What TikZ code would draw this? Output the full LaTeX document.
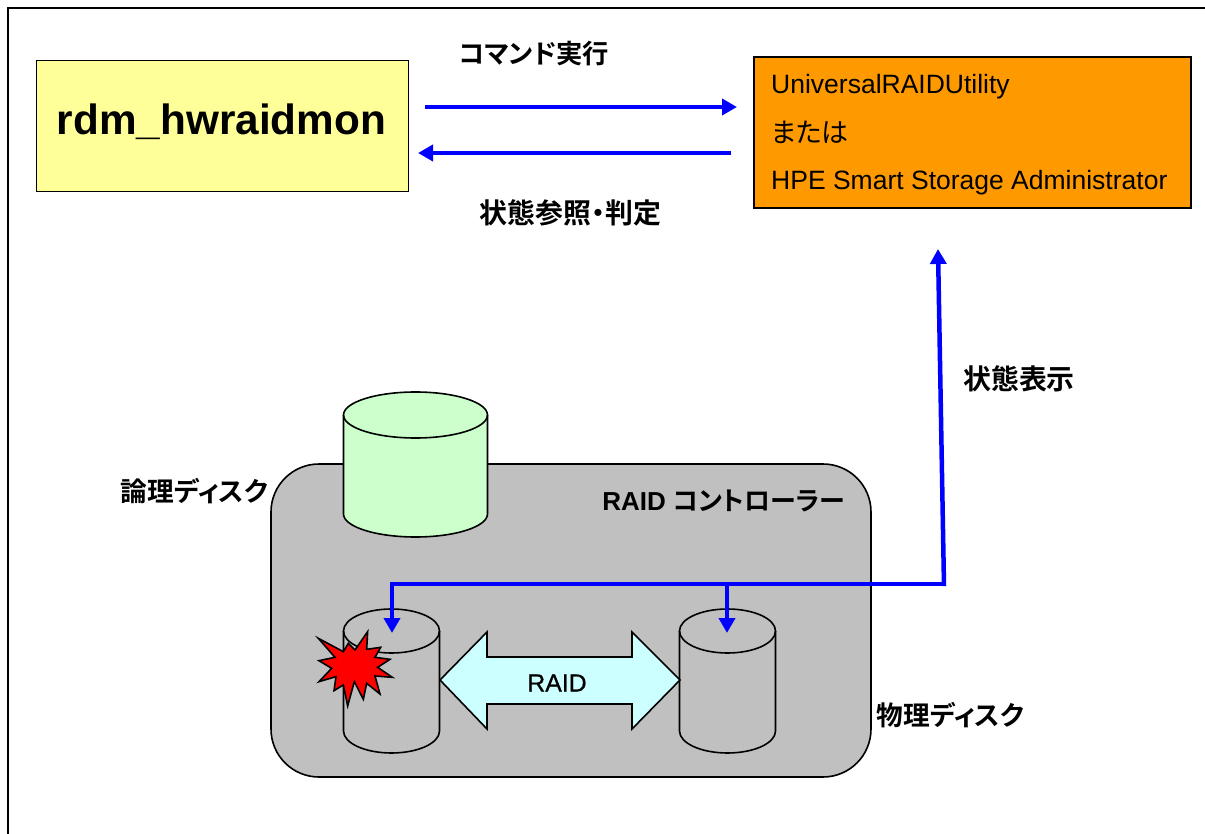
\documentclass[tikz,border=0pt]{standalone}
\usepackage{fontspec}
\setmainfont{Liberation Sans}
\newfontfamily\cjk{Noto Sans CJK JP}[BoldFont={Noto Sans CJK JP Bold},RawFeature={+palt}]
\newfontfamily\fakeb{Liberation Sans}[FakeBold=0.8]
\usetikzlibrary{arrows.meta}
\definecolor{yel}{HTML}{FFFF99}
\definecolor{org}{HTML}{FF9900}
\definecolor{grn}{HTML}{CCFFCC}
\definecolor{cyn}{HTML}{CCFFFF}
\definecolor{gry}{HTML}{C0C0C0}
\newcommand{\cyl}[5]{%
  \path[cylface] (#1,#3) -- (#1,#4) arc[start angle=180,end angle=0,x radius={(#2-#1)/2},y radius=#5] -- (#2,#3) arc[start angle=0,end angle=-180,x radius={(#2-#1)/2},y radius=#5] -- cycle;
  \draw[cylline] (#1,#3) -- (#1,#4) arc[start angle=180,end angle=0,x radius={(#2-#1)/2},y radius=#5] -- (#2,#3);
  \draw[cylline] (#1,#3) arc[start angle=180,end angle=-180,x radius={(#2-#1)/2},y radius=#5];
}
\tikzset{
  outline/.style={draw=black,line width=1.6pt},
  cylface/.style={fill=gry},
  cylline/.style={draw=black,line width=1.6pt},
  flow/.style={draw=blue,line width=4.5pt,-{Triangle[length=15pt,width=16pt]},shorten >=0pt},
  wire/.style={draw=blue,line width=4.5pt},
  lab/.style={font=\cjk\bfseries\fontsize{26.7pt}{30pt}\selectfont,inner sep=0pt,anchor=center},
  labbig/.style={font=\cjk\bfseries\fontsize{27.9pt}{30pt}\selectfont,inner sep=0pt,anchor=center},
  boxtext/.style={font=\fontsize{26.5pt}{30pt}\selectfont,inner sep=0pt,anchor=west},
}
\begin{document}
\begin{tikzpicture}[x=1pt,y=-1pt]
\useasboundingbox (0,0) rectangle (1205,834);
\fill[white] (0,0) rectangle (1205,834);
\draw[black,line width=2pt] (7.5,840) -- (7.5,8.5) -- (1210,8.5);

\node[draw=black,line width=1.4pt,fill=yel,minimum width=372pt,minimum height=131pt,anchor=north west,inner sep=0pt] (hw) at (36,60) {};
\node[font=\bfseries\fontsize{42.3pt}{48pt}\selectfont,inner sep=0pt] (hwt) at (221.5,122) {rdm\_hwraidmon};

\node[draw=black,line width=1.7pt,fill=org,minimum width=437pt,minimum height=151pt,anchor=north west,inner sep=0pt] (ura) at (753,56) {};
\node[boxtext] (t1) at (771,87) {UniversalRAIDUtility};
\node[boxtext,font=\cjk\fontsize{27pt}{30pt}\selectfont] (t2) at (771,132) {または};
\node[boxtext] (t3) at (771,183) {HPE Smart Storage Administrator};

\coordinate (a1s) at (425,107);
\coordinate (a1e) at (737,107);
\coordinate (a2s) at (731,153);
\coordinate (a2e) at (418,153);
\draw[flow] (a1s) -- (a1e);
\draw[flow] (a2s) -- (a2e);
\node[lab,font=\cjk\bfseries\fontsize{26.3pt}{30pt}\selectfont] (cmd) at (534,54) {コマンド実行};
\node[labbig] (ref) at (570.5,213) {状態参照・判定};

\draw[outline,fill=gry,rounded corners=48pt] (271,464) rectangle (871,777);
\node[font=\bfseries\fontsize{26pt}{28pt}\selectfont,inner sep=0pt] (ctl) at (723.5,501) {RAID {\cjk\fontsize{26pt}{30pt}\selectfont コントローラー}};

\begin{scope}[cylface/.style={fill=grn}]
\cyl{343.5}{487.5}{415}{514}{23}
\end{scope}
\cyl{343.5}{439.5}{631}{731}{22}
\cyl{679.5}{775.5}{631}{731}{22}

\node[lab] (ld) at (194.5,491) {論理ディスク};
\node[lab] (pd) at (950.5,715) {物理ディスク};
\node[labbig] (st) at (1019,379) {状態表示};

\draw[outline,fill=cyn,line join=miter]
  (440,680) -- (487,632) -- (487,657) -- (632,657) -- (632,632) -- (680,680) -- (632,729) -- (632,704) -- (487,704) -- (487,729) -- cycle;
\node[font=\fakeb\fontsize{24.8pt}{28pt}\selectfont,inner sep=0pt] (rd) at (557,683) {RAID};

\begin{scope}[shift={(300,570)},x=0.3333pt,y=-0.3333pt]
\draw[fill=red,draw=black,line width=1.6pt,line join=miter]
 (55,205)--(130,245)--(145,220)--(165,240)--(203,185)--(200,238)--(242,232)--(225,262)--(270,268)--(233,292)--(277,322)--(225,318)--(240,372)--(200,340)--(190,388)--(163,335)--(143,408)--(130,345)--(102,362)--(108,320)--(57,335)--(95,295)--(57,272)--(105,262)--cycle;
\end{scope}

\coordinate (j0) at (392,584);
\coordinate (j1) at (727,584);
\coordinate (j2) at (944,584);
\coordinate (d0) at (392,633);
\coordinate (d1) at (727,633);
\coordinate (up) at (938,249);
\draw[wire] (j0) -- (j2);
\draw[flow] (j0 |- 0,581.8) -- (d0);
\draw[flow] (j1 |- 0,581.8) -- (d1);
\draw[flow] (944,586.2) -- (up);
\end{tikzpicture}
\end{document}
